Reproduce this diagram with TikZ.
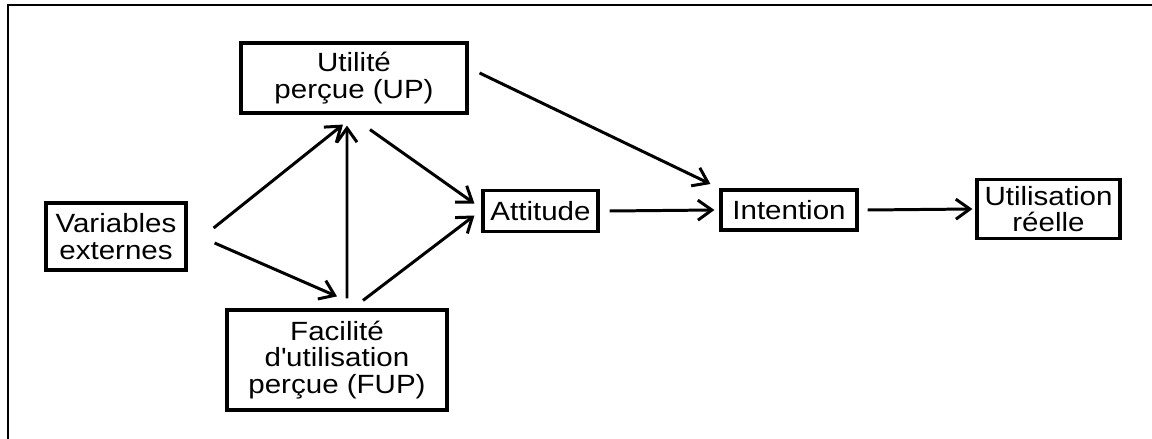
\documentclass[tikz,border=0pt]{standalone}
\usepackage{fontspec}
\setmainfont[FakeStretch=1.12]{Liberation Sans}
\usepackage{tikz}
\usetikzlibrary{arrows.meta}

\begin{document}
\begin{tikzpicture}[auto,
        box/.style={draw, line width=1.8pt, inner sep=0pt, align=center,
          font=\fontsize{15}{15}\selectfont},
        >={Straight Barb[length=2.8mm, width=4mm]},
        every path/.append style={line width=1.7pt}]
        \useasboundingbox (0, 0) rectangle (23.04, -8.78);
        % partial frame round the figure
        \draw (0.16, -8.78) -- (0.16, -0.1) -- (23.04, -0.1);

        \node[box, minimum width=2.8cm, minimum height=1.34cm] (VE) at (2.32, -4.73) {Variables\\externes};
        \node[box, minimum width=4.52cm, minimum height=1.4cm] (UP) at (7.08, -1.56) {Utilité\\perçue (UP)};
        \node[box, minimum width=4.4cm, minimum height=2cm] (FUP) at (6.74, -7.2) {Facilité\\d\textquotesingle utilisation\\perçue (FUP)};
        \node[box, minimum width=2.3cm, minimum height=0.82cm] (Att) at (10.81, -4.22) {Attitude};
        \node[box, minimum width=2.72cm, minimum height=0.8cm] (Int) at (15.78, -4.2) {Intention};
        \node[box, minimum width=2.86cm, minimum height=1.18cm] (Util) at (20.97, -4.18) {Utilisation\\réelle};

        \draw[->] ([shift={(0.52, 0.17)}]VE.east) to ([shift={(-0.22, -0.2)}]UP.south);
        \draw[->] ([shift={(0.54, -0.13)}]VE.east) to ([shift={(0, 0.24)}]FUP.north);
        \draw[->] ([shift={(0.2, 0.2)}]FUP.north) to ([shift={(-0.14, -0.22)}]UP.south);
        \draw[->] ([shift={(0.32, -0.3)}]UP.south) to ([shift={(-0.14, 0.15)}]Att.west);
        \draw[->] ([shift={(0.52, 0.16)}]FUP.north) to ([shift={(-0.14, -0.09)}]Att.west);
        \draw[->] ([shift={(0.22, 0.1)}]UP.east) to ([shift={(-0.18, 0.52)}]Int.west);
        \draw[->] ([xshift=0.2cm]Att.east) to ([xshift=-0.1cm]Int.west);
        \draw[->] ([xshift=0.18cm]Int.east) to ([xshift=-0.06cm]Util.west);
      \end{tikzpicture}
\end{document}
